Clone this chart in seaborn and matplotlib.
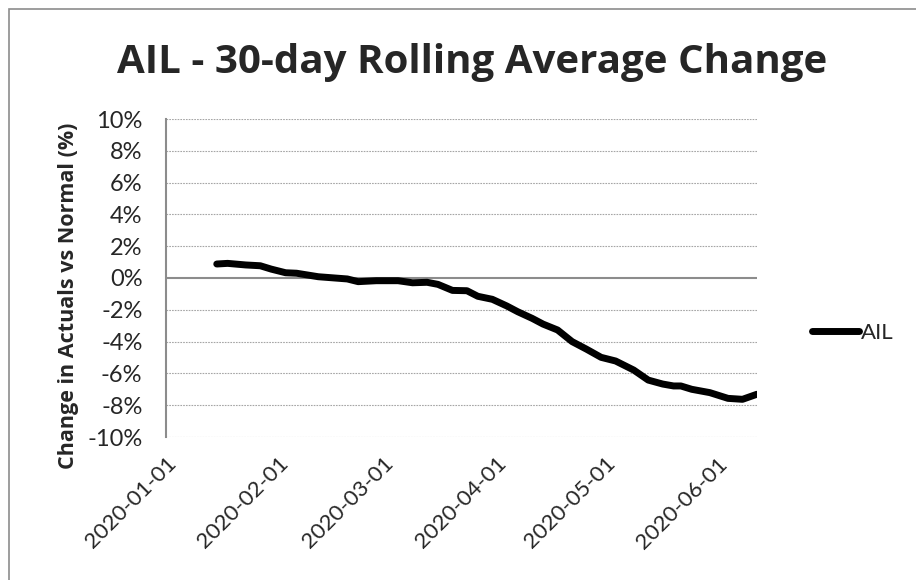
import pandas as pd
import seaborn as sns
import matplotlib.pyplot as plt
import matplotlib.dates as mdates
from matplotlib.patches import Rectangle
from matplotlib.ticker import FuncFormatter, MultipleLocator

# values (percent)
dates = ['2020-01-15', '2020-01-18', '2020-01-23', '2020-01-27', '2020-01-30',
         '2020-02-03', '2020-02-06', '2020-02-12', '2020-02-20', '2020-02-23',
         '2020-02-28', '2020-03-05', '2020-03-09', '2020-03-13', '2020-03-16',
         '2020-03-20', '2020-03-24', '2020-03-27', '2020-03-31', '2020-04-04',
         '2020-04-07', '2020-04-11', '2020-04-14', '2020-04-18', '2020-04-22',
         '2020-04-26', '2020-04-30', '2020-05-04', '2020-05-09', '2020-05-13',
         '2020-05-17', '2020-05-20', '2020-05-22', '2020-05-25', '2020-05-30',
         '2020-06-04', '2020-06-08', '2020-06-12']
ail = [0.88, 0.92, 0.82, 0.77, 0.56,
       0.33, 0.30, 0.08, -0.06, -0.23,
       -0.17, -0.17, -0.30, -0.27, -0.40,
       -0.78, -0.80, -1.15, -1.34, -1.76,
       -2.12, -2.54, -2.90, -3.27, -4.00,
       -4.48, -4.99, -5.22, -5.79, -6.42,
       -6.67, -6.79, -6.79, -7.00, -7.21,
       -7.57, -7.63, -7.31]
y_ticks = list(range(-10, 11, 2))

df = pd.DataFrame({"Date": pd.to_datetime(dates), "AIL": ail})

sns.set_style("white")
plt.rcParams['font.family'] = ['Lato', 'DejaVu Sans']
bold_font = ['Open Sans', 'DejaVu Sans']

fig = plt.figure(figsize=(9.16, 5.8), dpi=100)
ax = fig.add_axes([166 / 916, 1 - 437 / 580, (757 - 166) / 916, (437 - 119) / 580])

sns.lineplot(data=df, x="Date", y="AIL", ax=ax, color="black", linewidth=5,
             solid_capstyle="round", label="AIL")

ax.set_xlim(pd.Timestamp('2020-01-01'), pd.Timestamp('2020-06-12'))
ax.set_ylim(y_ticks[0], y_ticks[-1])
ax.yaxis.set_major_locator(MultipleLocator(2))
ax.yaxis.set_major_formatter(FuncFormatter(lambda v, p: f"{v:.0f}%"))
ax.xaxis.set_major_locator(mdates.MonthLocator())
ax.xaxis.set_major_formatter(mdates.DateFormatter('%Y-%m-%d'))

for t in y_ticks:
    if t == 0:
        ax.axhline(0, color="#8c8c8c", linewidth=1.5, zorder=1)
    else:
        ax.axhline(t, color="#a6a6a6", linewidth=0.8, linestyle=(0, (1.5, 1)), zorder=1)

for s in ["top", "right", "bottom"]:
    ax.spines[s].set_visible(False)
ax.spines["left"].set_color("#8c8c8c")
ax.spines["left"].set_linewidth(1.5)

ax.tick_params(axis='y', labelsize=17, pad=17, length=0)
ax.tick_params(axis='x', labelsize=16, pad=12, length=0)
plt.setp(ax.get_xticklabels(), rotation=45, ha='right', rotation_mode='anchor')

ax.set_xlabel("")
ax.set_ylabel("Change in Actuals vs Normal (%)", fontsize=15.5, fontweight='bold',
              family=bold_font, labelpad=6)
ax.yaxis.label.set_y(0.443)
ax.set_title("AIL - 30-day Rolling Average Change", fontsize=29, fontweight='bold',
             family=bold_font, pad=33, x=0.518)

ax.legend(loc='center left', bbox_to_anchor=(1.093, 0.327), frameon=False, fontsize=16,
          handlelength=2.1, handletextpad=0.1, borderaxespad=0, borderpad=0)

fig.add_artist(Rectangle((9 / 916, -0.1), 1.2, 1 - 9 / 580 + 0.1, transform=fig.transFigure,
                         fill=False, edgecolor="#8c8c8c", linewidth=1.2, clip_on=False))

fig.savefig("out.png", dpi=100)
